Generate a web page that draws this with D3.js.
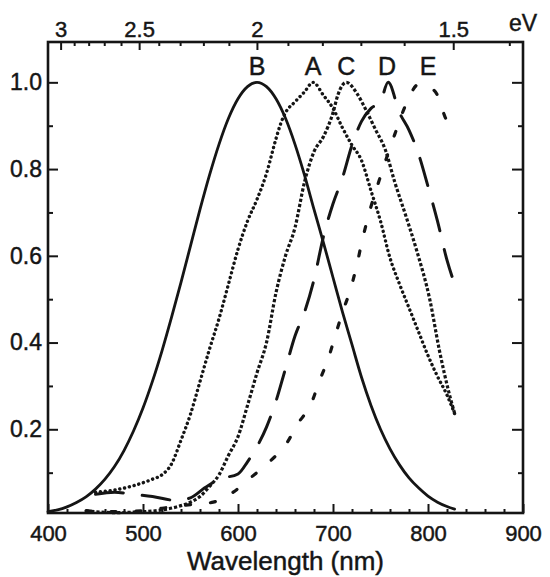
<!DOCTYPE html>
<html>
<head>
<meta charset="utf-8">
<script src="https://cdn.jsdelivr.net/npm/d3@7"></script>
<style>
  body { margin: 0; background: #fff; }
  svg { display: block; }
</style>
</head>
<body>
<svg></svg>
<script>
// spectra (wavelength nm -> normalised intensity)
const waveB = [400, 410, 420, 430, 440, 450, 460, 470, 480, 490, 500, 510, 520, 530, 540, 550, 560, 570, 580, 590, 600, 610, 620, 630, 640, 650, 660, 670, 680, 690, 700, 710, 720, 730, 740, 750, 760, 770, 780, 790, 800, 810, 820, 828]
const valueB = [0.01, 0.014, 0.021, 0.031, 0.044, 0.062, 0.085, 0.114, 0.151, 0.196, 0.249, 0.311, 0.381, 0.458, 0.539, 0.623, 0.707, 0.786, 0.857, 0.917, 0.962, 0.99, 1.0, 0.99, 0.962, 0.917, 0.857, 0.786, 0.707, 0.63, 0.55, 0.47, 0.395, 0.32, 0.255, 0.2, 0.155, 0.118, 0.088, 0.065, 0.046, 0.032, 0.022, 0.016]

const waveA = [450, 470, 490, 510, 520, 530, 540, 550, 560, 570, 580, 590, 600, 610, 620, 630, 640, 645, 650, 660, 670, 679, 690, 700, 710, 720, 730, 740, 750, 760, 770, 780, 790, 800, 810, 820, 828]
const valueA = [0.055, 0.06, 0.07, 0.085, 0.095, 0.12, 0.175, 0.235, 0.31, 0.385, 0.455, 0.535, 0.615, 0.68, 0.73, 0.79, 0.87, 0.905, 0.93, 0.955, 0.978, 1.0, 0.97, 0.94, 0.895, 0.855, 0.82, 0.75, 0.68, 0.595, 0.535, 0.48, 0.425, 0.37, 0.322, 0.279, 0.236]

const waveC = [440, 470, 500, 520, 540, 550, 560, 570, 580, 590, 600, 610, 620, 630, 640, 650, 660, 670, 680, 690, 700, 705, 714, 725, 735, 745, 755, 765, 777, 788, 802, 812, 822, 828]
const valueC = [0.012, 0.008, 0.01, 0.014, 0.024, 0.032, 0.045, 0.068, 0.095, 0.14, 0.183, 0.255, 0.33, 0.4, 0.515, 0.6, 0.665, 0.77, 0.84, 0.875, 0.93, 0.97, 1.0, 0.975, 0.935, 0.89, 0.845, 0.77, 0.69, 0.613, 0.498, 0.382, 0.285, 0.237]

const waveD = [450, 470, 490, 510, 535, 550, 565, 580, 600, 610, 620, 630, 640, 650, 660, 670, 680, 690, 700, 710, 720, 730, 740, 750, 758, 770, 780, 790, 800, 810, 820, 828]
const valueD = [0.05, 0.055, 0.05, 0.045, 0.036, 0.042, 0.065, 0.085, 0.097, 0.125, 0.16, 0.205, 0.265, 0.34, 0.415, 0.47, 0.545, 0.645, 0.72, 0.78, 0.855, 0.91, 0.94, 0.955, 1.0, 0.93, 0.89, 0.835, 0.76, 0.68, 0.59, 0.535]

const waveE = [440, 470, 500, 520, 545, 574, 595, 612, 633, 651, 663, 677, 686, 695, 702, 710, 718, 725, 730, 737, 751, 765, 777, 790, 800, 809, 818, 828]
const valueE = [0.012, 0.01, 0.012, 0.018, 0.025, 0.032, 0.055, 0.086, 0.125, 0.167, 0.213, 0.259, 0.313, 0.363, 0.413, 0.47, 0.52, 0.578, 0.628, 0.69, 0.79, 0.88, 0.95, 0.995, 0.99, 0.974, 0.92, 0.88]

const peakNames = ['B', 'A', 'C', 'D', 'E']
const peakWaves = [620, 679, 714, 757, 800]

const xMajor = [400, 500, 600, 700, 800, 900]
const xMinor = d3.range(420, 900, 20).filter(v => v % 100 !== 0)
const yMajor = [0.2, 0.4, 0.6, 0.8, 1.0]
const yMinor = [0.1, 0.3, 0.5, 0.7, 0.9]
const eMajor = [3, 2.5, 2, 1.5]
const eMinor = [2.9, 2.8, 2.7, 2.6, 2.4, 2.3, 2.2, 2.1, 1.9, 1.8, 1.7, 1.6, 1.4]

const hc = 1239.84
const width = 550
const height = 577
const margin = { top: 42, right: 27, bottom: 64, left: 48 }
const font = "'Liberation Sans', Arial, Helvetica, sans-serif"
const ink = '#151515'

const x = d3.scaleLinear()
    .domain([400, 900])
    .range([margin.left, width - margin.right])
const y = d3.scaleLinear()
    .domain([0.007, 1.093])
    .range([height - margin.bottom, margin.top])
// top axis is linear in 1/E since x is linear in wavelength
const xInvE = d3.scaleLinear()
    .domain([400 / hc, 900 / hc])
    .range(x.range())

const svg = d3.select('svg')
    .attr('width', width)
    .attr('height', height)

// slightly heavy text, the scan looks a bit bold
function heavy(sel) {
    sel.attr('fill', ink).attr('stroke', ink).attr('stroke-width', 0.45)
}

function styleAxis(g, size) {
    g.attr('font-family', font).attr('font-size', size)
    g.select('.domain').remove()
    g.selectAll('line').attr('stroke', ink).attr('stroke-width', 2)
    g.selectAll('text').call(heavy)
}

// bottom
svg.append('g')
    .attr('transform', `translate(0,${y.range()[0]})`)
    .call(d3.axisBottom(x).tickValues(xMajor).tickSize(-9).tickPadding(12).tickFormat(d3.format('d')))
    .call(g => styleAxis(g, 22))
svg.append('g')
    .attr('transform', `translate(0,${y.range()[0]})`)
    .call(d3.axisBottom(x).tickValues(xMinor).tickSize(-4).tickFormat(''))
    .call(g => styleAxis(g, 22))

// left
svg.append('g')
    .attr('transform', `translate(${x.range()[0]},0)`)
    .call(d3.axisLeft(y).tickValues(yMajor).tickSize(-10).tickPadding(6).tickFormat(d3.format('.1f')))
    .call(g => styleAxis(g, 23))
svg.append('g')
    .attr('transform', `translate(${x.range()[0]},0)`)
    .call(d3.axisLeft(y).tickValues(yMinor).tickSize(-5).tickFormat(''))
    .call(g => styleAxis(g, 23))

// right
svg.append('g')
    .attr('transform', `translate(${x.range()[1]},0)`)
    .call(d3.axisRight(y).tickValues(yMajor).tickSize(-11).tickFormat(''))
    .call(g => styleAxis(g, 22))
svg.append('g')
    .attr('transform', `translate(${x.range()[1]},0)`)
    .call(d3.axisRight(y).tickValues(yMinor).tickSize(-5).tickFormat(''))
    .call(g => styleAxis(g, 22))

// top, photon energy
svg.append('g')
    .attr('transform', `translate(0,${y.range()[1]})`)
    .call(d3.axisTop(xInvE).tickValues(eMajor.map(e => 1 / e)).tickSize(-8).tickPadding(5)
        .tickFormat(v => d3.format('~g')(+(1 / v).toFixed(2))))
    .call(g => styleAxis(g, 22))
svg.append('g')
    .attr('transform', `translate(0,${y.range()[1]})`)
    .call(d3.axisTop(xInvE).tickValues(eMinor.map(e => 1 / e)).tickSize(-4).tickFormat(''))
    .call(g => styleAxis(g, 22))

svg.append('rect')
    .attr('x', x.range()[0])
    .attr('y', y.range()[1])
    .attr('width', x.range()[1] - x.range()[0])
    .attr('height', y.range()[0] - y.range()[1])
    .attr('fill', 'none')
    .attr('stroke', ink)
    .attr('stroke-width', 2.6)

const line = d3.line()
    .x(d => x(d[0]))
    .y(d => y(d[1]))
    .curve(d3.curveMonotoneX)

const series = [
    { id: 'B', wave: waveB, value: valueB, dash: null, cap: 'round', w: 2.8 },
    { id: 'A', wave: waveA, value: valueA, dash: '0.1,4.8', cap: 'round', w: 3.4 },
    { id: 'C', wave: waveC, value: valueC, dash: '3.2,2', cap: 'butt', w: 3.2 },
    { id: 'D', wave: waveD, value: valueD, dash: '28,19', cap: 'round', w: 3 },
    { id: 'E', wave: waveE, value: valueE, dash: '5,20', cap: 'round', w: 3.2 }
]

svg.append('g')
    .selectAll('path')
    .data(series)
    .enter()
    .append('path')
    .attr('d', s => line(s.wave.map((w, i) => [w, s.value[i]])))
    .attr('fill', 'none')
    .attr('stroke', ink)
    .attr('stroke-width', s => s.w)
    .attr('stroke-linecap', s => s.cap)
    .attr('stroke-dasharray', s => s.dash)

svg.append('g')
    .selectAll('text')
    .data(peakNames)
    .enter()
    .append('text')
    .attr('x', (d, i) => x(peakWaves[i]))
    .attr('y', y(1.0) - 7)
    .attr('text-anchor', 'middle')
    .attr('font-family', font)
    .attr('font-size', 25)
    .call(heavy)
    .text(d => d)

svg.append('text')
    .attr('x', 509)
    .attr('y', 31)
    .attr('font-family', font)
    .attr('font-size', 23)
    .call(heavy)
    .text('eV')

svg.append('text')
    .attr('x', (x.range()[0] + x.range()[1]) / 2)
    .attr('y', 570)
    .attr('text-anchor', 'middle')
    .attr('font-family', font)
    .attr('font-size', 26)
    .call(heavy)
    .text('Wavelength (nm)')
</script>
</body>
</html>
